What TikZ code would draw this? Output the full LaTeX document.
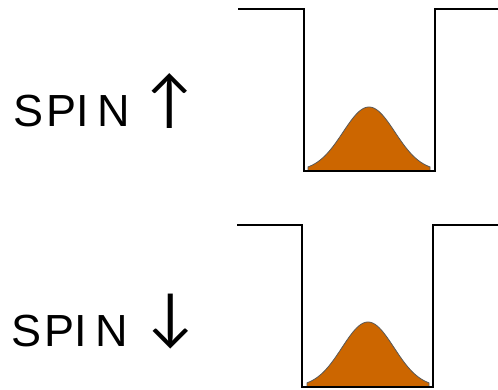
\documentclass[tikz,border=0pt]{standalone}
\usepackage{fontspec}
\setmainfont{Liberation Sans}
\newfontfamily\arrowfont{Lato}
\definecolor{wavefill}{HTML}{CC6600}
\newcommand{\spinword}{S\kern3.9pt P\kern0pt I\kern8pt N}
\begin{document}
\begin{tikzpicture}[x=1pt,y=-1pt,
  well/.style={draw=black,line width=1.2pt},
  wave/.style={fill=wavefill,draw=black!65,line width=0.8pt},
  spinlabel/.style={anchor=base west,inner sep=0pt,font=\fontsize{45}{50}\selectfont}]
\useasboundingbox (0,0) rectangle (498,390);
% top well
\draw[well] (238,9) -- (304,9) -- (304,171) -- (435,171) -- (435,9) -- (498,9);
\fill[wave] (308,171) -- plot[domain=-61:61,samples=80,smooth] ({369+\x},{171-64*exp(-(\x*\x)/(2*26*26))}) -- (430,171) -- cycle;
\draw[well] (304,171) -- (435,171);
% bottom well
\draw[well] (237,225) -- (302,225) -- (302,387) -- (433,387) -- (433,225) -- (498,225);
\fill[wave] (307,387) -- plot[domain=-61:61,samples=80,smooth] ({368+\x},{387-65*exp(-(\x*\x)/(2*26*26))}) -- (429,387) -- cycle;
\draw[well] (302,387) -- (433,387);
% labels
\node[spinlabel] (up) at (12.8,127) {\spinword\kern17pt\raisebox{5.5pt}{\arrowfont\fontsize{62}{62}\selectfont ↑}};
\node[spinlabel] (down) at (10.8,346) {\spinword\kern20pt\raisebox{8pt}{\arrowfont\fontsize{62}{62}\selectfont ↓}};
\end{tikzpicture}
\end{document}
